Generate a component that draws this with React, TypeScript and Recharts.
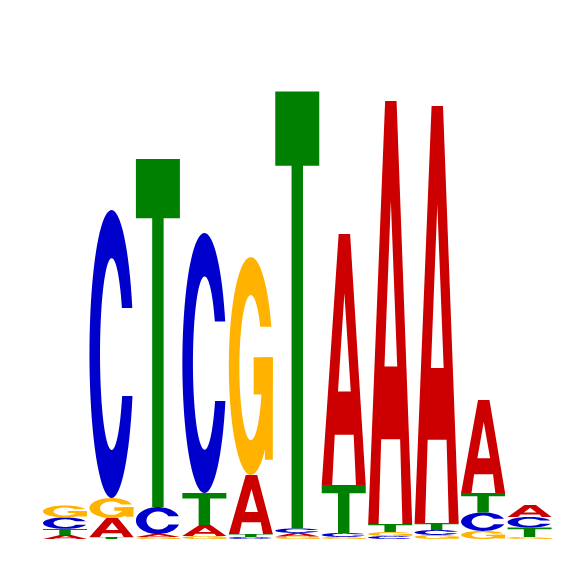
import { BarChart, Bar, XAxis, YAxis } from 'recharts';

// motif positions and per-letter heights (bits)
const positions = ['1', '2', '3', '4', '5', '6', '7', '8', '9', '10', '11'];
const bitsA = [0.018, 0.084, 0.013, 0.049, 0.262, 0.016, 1.116, 1.88, 1.853, 0.413, 0.053];
const bitsC = [0.051, 1.28, 0.12, 1.156, 0.009, 0.02, 0.018, 0.013, 0.022, 0.082, 0.047];
const bitsG = [0.053, 0.089, 0.009, 0.013, 0.969, 0.011, 0.009, 0.018, 0.018, 0.036, 0.009];
const bitsT = [0.027, 0.009, 1.547, 0.142, 0.013, 1.942, 0.213, 0.036, 0.031, 0.087, 0.042];

const letterColors: Record<string, string> = {
    A: '#CC0000',
    C: '#0000CC',
    G: '#FFB300',
    T: '#008000',
};

type Ell = { cx: number, cy: number, rx: number, ry: number };

// ring with an opening on the right side, in a 1x1 box
const ringPath = (outer: Ell, inner: Ell, yTop: number, yBot: number) => {
    const n = 72;
    const pts: string[] = [];
    const oTop = Math.asin((yTop - outer.cy) / outer.ry);
    const oBot = Math.asin((yBot - outer.cy) / outer.ry) - Math.PI * 2;
    for (let i = 0; i <= n; i++) {
        const t = oTop + (oBot - oTop) * i / n;
        pts.push(`${outer.cx + outer.rx * Math.cos(t)},${outer.cy + outer.ry * Math.sin(t)}`);
    }
    const iTop = Math.asin((yTop - inner.cy) / inner.ry);
    const iBot = Math.asin((yBot - inner.cy) / inner.ry) - Math.PI * 2;
    for (let i = 0; i <= n; i++) {
        const t = iBot + (iTop - iBot) * i / n;
        pts.push(`${inner.cx + inner.rx * Math.cos(t)},${inner.cy + inner.ry * Math.sin(t)}`);
    }
    return 'M' + pts.join('L') + 'Z';
};

const glyphPaths: Record<string, string[]> = {
    A: [
        'M0,1L0.385,0L0.645,0L1,1L0.778,1L0.726,0.8L0.296,0.8L0.237,1Z M0.37,0.628L0.515,0.236L0.66,0.628Z',
    ],
    C: [
        ringPath({ cx: 0.5, cy: 0.5, rx: 0.5, ry: 0.5 }, { cx: 0.505, cy: 0.5, rx: 0.265, ry: 0.333 }, 0.34, 0.646),
    ],
    G: [
        ringPath({ cx: 0.5, cy: 0.5, rx: 0.5, ry: 0.5 }, { cx: 0.5, cy: 0.507, rx: 0.26, ry: 0.333 }, 0.32, 0.46),
        'M0.565,0.46L1,0.46L1,0.93L0.82,0.93L0.82,0.63L0.565,0.63Z',
    ],
    T: [
        'M0,0L1,0L1,0.17L0.63,0.17L0.63,1L0.37,1L0.37,0.17L0,0.17Z',
    ],
};

const rows = positions.map((pos, i) => {
    const letters = [
        { l: 'A', v: bitsA[i] },
        { l: 'C', v: bitsC[i] },
        { l: 'G', v: bitsG[i] },
        { l: 'T', v: bitsT[i] },
    ].sort((a, b) => a.v - b.v);
    const row: Record<string, string | number> = { pos };
    letters.forEach((d, k) => {
        row[`r${k}`] = d.v;
        row[`l${k}`] = d.l;
    });
    return row;
});

const Letter = (props: any) => {
    const { x, y, width, height, letter } = props;
    if (!height || height <= 0 || !width) return null;
    return (
        <g transform={`translate(${x},${y}) scale(${width},${height})`}>
            {glyphPaths[letter].map((d, i) => (
                <path key={i} d={d} fill={letterColors[letter]} fillRule='evenodd' />
            ))}
        </g>
    );
};

const App = () => {
    return (
        <div style={{ position: 'absolute', left: 0, top: 0, width: 566, height: 566, background: '#fff' }}>
            <BarChart
                width={566}
                height={566}
                data={rows}
                margin={{ top: 89, right: 13, bottom: 27, left: 42 }}
                barCategoryGap={1}
            >
                <XAxis dataKey='pos' hide />
                <YAxis type='number' domain={[0, 2]} hide />
                {[0, 1, 2, 3].map((k) => (
                    <Bar
                        key={k}
                        dataKey={`r${k}`}
                        stackId='logo'
                        isAnimationActive={false}
                        shape={(p: any) => <Letter {...p} letter={p.payload[`l${k}`]} />}
                    />
                ))}
            </BarChart>
        </div>
    );
};

export default App;
